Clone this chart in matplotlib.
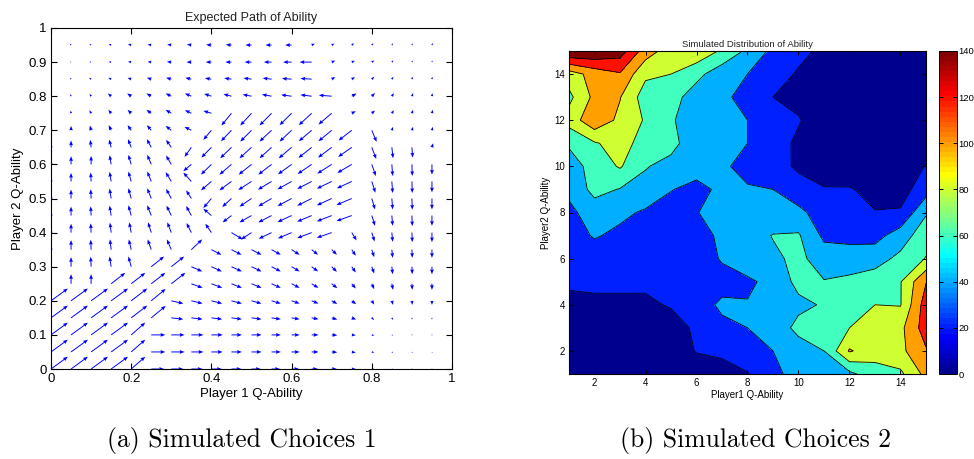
import numpy as np
import matplotlib
matplotlib.use('Agg')
import matplotlib.pyplot as plt
from matplotlib.colors import Normalize, ListedColormap
from matplotlib.cm import ScalarMappable
from matplotlib.ticker import FuncFormatter

plt.rcParams['font.family'] = ['Liberation Sans', 'DejaVu Sans']

# ---- left panel: expected drift of the two abilities ----
grid_pts = [0, 0.05, 0.1, 0.15, 0.2, 0.25, 0.3, 0.35, 0.4, 0.45,
            0.5, 0.55, 0.6, 0.65, 0.7, 0.75, 0.8, 0.85, 0.9, 0.95]

# drift components in hundredths, one row per y value, listed from y=0.95 down to y=0
u_rows = [
    [0, -0.3, -0.4, -0.6, -0.8, -0.9, -1.0, -1.1, -1.3, -1.4, -1.5, -1.5, -1.6, 0.8, 0.7, 0.6, 0.4, 0.3, 0.2, 0.2],
    [0, -0.3, -0.4, -0.6, -0.8, -0.9, -1.1, -1.2, -1.4, -1.5, -1.7, -1.9, -2.1, -3.0, 0.9, 0.8, 0.6, 0.4, 0.2, 0.1],
    [0, -0.3, -0.5, -0.7, -0.9, -1.1, -1.3, -1.5, -1.6, -1.8, -2.0, -2.2, -2.4, -2.8, 0.9, 0.8, 0.6, 0.4, 0.2, 0.1],
    [0, -0.2, -0.4, -0.8, -1.0, -1.2, -1.4, -1.6, -1.8, -2.0, -2.2, -2.4, -2.6, -2.8, -3.2, 1.2, 0.8, 0.5, 0.3, 0.1],
    [0, -0.1, -0.4, -0.7, -0.9, -1.2, -1.4, -1.6, -2.0, -2.5, -2.8, -3.0, -3.0, -3.2, -3.3, 1.0, 0.8, 0.5, 0.3, 0.2],
    [0, 0, -0.3, -0.6, -0.9, -1.1, -1.4, -1.7, -2.0, -2.6, -2.8, -3.0, -3.0, -3.2, -3.3, -3.3, 1.2, 0.3, 0.3, 0.2],
    [0, 0, -0.2, -0.5, -0.8, -1.1, -1.3, -1.7, -2.5, -2.8, -3.0, -3.0, -3.2, -3.3, -3.4, -3.4, 1.1, 0.3, 0.2, 0.3],
    [0, 0, 0, -0.4, -0.7, -1.0, -1.3, -2.0, -2.6, -3.0, -3.2, -3.3, -3.4, -3.5, -3.6, -3.6, 1.0, 0.2, 0.1, 0],
    [0, 0, -0.1, -0.4, -0.7, -1.0, -1.4, -2.0, -2.6, -3.0, -3.3, -3.4, -3.5, -3.6, -3.7, -3.7, 0.9, 0.2, 0.1, 0],
    [0, 0, -0.1, -0.4, -0.7, -1.0, -1.3, -1.3, -2.0, -2.3, -3.0, -3.3, -3.5, -3.6, -3.7, -3.8, 0.8, 0.2, 0.1, 0],
    [0, 0, -0.1, -0.4, -0.7, -1.0, -1.2, -1.3, -2.0, -2.2, -3.0, -3.3, -3.5, -3.6, -3.7, -3.8, 0.8, 0.2, 0.1, 0],
    [0, 0, -0.1, -0.3, -0.5, -0.8, -1.0, -1.2, -1.5, 2.8, -2.6, -3.2, -3.4, -3.6, -3.7, 1.2, 0.7, 0.2, 0.1, 0],
    [0, 0, -0.1, -0.3, -0.6, -0.9, -1.1, 2.7, 2.5, 2.5, 2.5, 2.3, 2.0, 1.6, 1.3, 1.0, 0.6, 0.2, 0.1, 0],
    [0, 0, -0.1, -0.4, -0.7, 3.2, 3.2, 2.7, 2.6, 2.6, 2.5, 2.3, 2.0, 1.6, 1.3, 1.0, 0.6, 0.2, 0.1, 0],
    [0, 0, 0, 3.5, 3.5, 3.5, 3.5, 2.8, 2.7, 2.6, 2.5, 2.3, 2.0, 1.7, 1.4, 1.0, 0.6, 0.3, 0.1, 0],
    [4.2, 4.2, 4.2, 4.2, 4.0, 3.6, 3.0, 2.8, 2.7, 2.6, 2.5, 2.3, 2.0, 1.7, 1.4, 1.1, 0.6, 0.3, 0.1, 0],
    [4.2, 4.2, 4.2, 4.2, 4.0, 3.6, 3.0, 2.8, 2.7, 2.6, 2.5, 2.3, 2.0, 1.7, 1.4, 1.1, 0.6, 0.3, 0.1, 0],
    [4.2, 4.2, 4.2, 4.2, 3.5, 3.5, 3.3, 3.0, 2.8, 2.6, 2.5, 2.3, 2.0, 1.7, 1.4, 1.0, 0.6, 0.3, 0.1, 0.1],
    [4.2, 4.2, 4.2, 4.2, 3.5, 3.5, 3.3, 3.0, 2.8, 2.6, 2.5, 2.3, 2.0, 1.7, 1.4, 1.0, 0.6, 0.3, 0.2, 0.1],
    [4.2, 4.2, 4.2, 4.2, 3.5, 3.2, 3.0, 2.8, 2.6, 2.5, 2.3, 2.1, 1.9, 1.6, 1.3, 1.0, 0.6, 0.3, 0.2, 0.1],
]
v_rows = [
    [0.3, 0.4, 0.3, 0.3, 0.3, 0.2, 0.2, 0.2, 0.1, 0.1, 0, 0, 0, 0.4, 0.4, 0.5, 0.5, 0.5, 0.5, 0.6],
    [0.3, 0.1, 0.1, 0.1, 0.1, 0.1, 0.1, 0, 0, 0, 0, 0, 0, 0, 0.4, 0.4, 0.5, 0.5, 0.5, 0.5],
    [0.4, 0.4, 0.4, 0.4, 0.4, 0.4, 0.4, 0.4, 0.3, 0.3, 0.3, 0.3, 0.2, 0.2, 0.6, 0.6, 0.7, 0.7, 0.7, 0.7],
    [0.6, 0.6, 0.7, 0.8, 0.8, 0.8, 0.8, 0.8, 0.7, 0.6, 0.5, 0.5, 0.4, 0.4, 0.3, 0.8, 0.9, 0.9, 0.9, 0.9],
    [0.8, 0.8, 0.9, 1.0, 1.0, 1.0, 1.0, 0.9, 0.7, -3.6, -3.6, -3.6, -3.5, -3.5, -3.3, 0.6, 0.8, 0.9, 1.0, 1.0],
    [1.0, 1.3, 1.4, 1.5, 1.5, 1.5, 1.3, 1.0, -2.8, -3.2, -3.3, -3.3, -3.3, -3.2, -3.2, -3.0, -3.4, 1.0, 1.0, 1.0],
    [1.2, 2.0, 2.2, 2.3, 2.4, 2.4, 2.2, -2.8, -3.0, -3.2, -3.2, -3.2, -3.2, -3.1, -3.0, -2.8, -3.4, -3.2, -3.0, 1.2],
    [1.2, 2.4, 2.5, 2.7, 2.8, 2.8, 2.6, -2.0, -3.0, -3.0, -3.0, -3.0, -2.9, -2.8, -2.7, -2.5, -3.4, -3.4, -3.4, -3.0],
    [1.2, 2.5, 2.6, 2.8, 2.9, 2.9, 2.7, 2.6, -2.6, -2.6, -2.5, -2.4, -2.3, -2.2, -2.1, -2.0, -3.3, -3.4, -3.4, -3.2],
    [1.2, 2.6, 2.7, 2.9, 3.0, 3.0, 2.8, 2.4, -2.8, -2.5, -2.4, -2.3, -2.2, -2.1, -2.0, -1.9, -3.2, -3.2, -3.3, -3.2],
    [1.2, 2.6, 2.7, 2.9, 3.0, 3.0, 2.9, 2.8, 2.0, -2.0, -2.0, -2.0, -1.9, -1.8, -1.7, -1.6, -3.0, -3.0, -3.1, -3.0],
    [1.2, 2.6, 2.7, 2.9, 3.0, 3.0, 3.0, 2.8, 2.6, -2.0, -2.0, -1.8, -1.7, -1.6, -1.5, -2.3, -2.6, -2.7, -2.8, -2.8],
    [1.2, 2.8, 2.9, 3.0, 3.0, 3.0, 3.0, 3.0, -1.5, -1.5, -1.5, -1.5, -1.5, -1.5, -1.5, -1.8, -2.2, -2.4, -2.4, -2.4],
    [1.0, 2.8, 2.9, 3.0, 3.0, 3.0, 3.0, -1.4, -1.4, -1.4, -1.4, -1.4, -1.4, -1.4, -1.5, -1.7, -2.0, -2.2, -2.2, -2.2],
    [0.8, 2.8, 2.8, 3.2, 3.2, 3.2, 3.2, -1.2, -1.2, -1.2, -1.2, -1.2, -1.2, -1.2, -1.3, -1.4, -1.6, -1.8, -1.8, -1.8],
    [3.6, 3.6, 3.6, 3.6, 3.6, 3.5, -0.8, -0.8, -0.8, -0.8, -0.8, -0.8, -0.8, -0.8, -0.9, -1.0, -1.1, -1.2, -1.2, -1.2],
    [3.6, 3.6, 3.6, 3.6, 3.6, 3.5, -0.4, -0.4, -0.4, -0.4, -0.4, -0.4, -0.4, -0.4, -0.5, -0.5, -0.6, -0.6, -0.5, -0.5],
    [3.6, 3.6, 3.6, 3.6, 3.6, 0, 0, 0, 0, 0, 0, 0, 0, 0, -0.1, -0.1, -0.2, -0.2, -0.2, -0.2],
    [3.6, 3.6, 3.6, 3.6, 3.6, 0, 0, 0, 0, 0, 0, 0, 0, 0, -0.1, -0.2, -0.2, -0.3, -0.3, -0.3],
    [3.6, 3.6, 3.6, 3.6, 3.6, 0, 0, 0, 0, 0, 0, 0, 0, 0, 0, 0, 0, 0, 0, 0],
]

# ---- right panel: simulated counts on the 15x15 ability grid ----
ability_steps = list(range(1, 16))
# rows from Player2 ability 15 down to 1, columns Player1 ability 1..15
count_rows = [
    [160, 158, 150, 110, 90, 95, 77, 56, 35, 25, 16, 8, 5, 5, 5],
    [90, 108, 118, 84, 80, 66, 48, 40, 28, 18, 6, 4, 3, 3, 4],
    [75, 105, 101, 70, 68, 50, 45, 32, 20, 12, 4, 3, 2, 2, 3],
    [88, 115, 95, 78, 62, 50, 45, 40, 39, 22, 5, 3, 2, 2, 5],
    [63, 78, 88, 72, 65, 50, 48, 40, 32, 15, 5, 3, 2, 3, 12],
    [50, 68, 82, 61, 55, 50, 45, 30, 25, 18, 5, 3, 3, 8, 21],
    [45, 66, 59, 55, 41, 33, 45, 43, 40, 25, 22, 22, 12, 12, 31],
    [35, 50, 45, 37, 30, 39, 50, 45, 45, 46, 28, 25, 21, 22, 58],
    [30, 42, 35, 28, 25, 30, 45, 50, 61, 62, 36, 35, 33, 50, 72],
    [30, 28, 25, 25, 25, 28, 42, 50, 56, 65, 50, 48, 52, 65, 81],
    [23, 22, 22, 22, 25, 28, 32, 37, 45, 66, 61, 65, 70, 79, 119],
    [15, 18, 18, 18, 21, 30, 44, 41, 50, 55, 62, 72, 80, 79, 130],
    [8, 8, 8, 10, 15, 22, 35, 40, 47, 66, 70, 80, 88, 95, 130],
    [5, 5, 5, 6, 10, 21, 25, 30, 40, 50, 60, 102, 88, 95, 118],
    [3, 3, 3, 4, 5, 10, 10, 19, 32, 52, 56, 55, 72, 76, 106],
]
count_levels = [0, 20, 40, 60, 80, 100, 120, 140]


def matlab_jet(n=64):
    # the classic 64-step jet table
    x = np.arange(1, n + 1) / float(n)
    r = np.clip(1.5 - np.abs(4 * x - 3), 0, 1)
    g = np.clip(1.5 - np.abs(4 * x - 2), 0, 1)
    b = np.clip(1.5 - np.abs(4 * x - 1), 0, 1)
    return np.column_stack([r, g, b])


jet_table = matlab_jet(64)
jet_cmap = ListedColormap(jet_table)

fig = plt.figure(figsize=(9.74, 4.59), dpi=100)
W, H = 974.0, 459.0

# quiver panel
ax1 = fig.add_axes([51 / W, 1 - 369 / H, 401 / W, 341 / H])
qx, qy = np.meshgrid(grid_pts, grid_pts)
U = np.array(u_rows[::-1]) * 0.01
V = np.array(v_rows[::-1]) * 0.01
ax1.quiver(qx, qy, U, V, color='b', angles='xy', scale_units='xy', scale=1,
           width=0.0024, headwidth=4, headlength=5, headaxislength=4.5,
           pivot='tail')
ax1.set_xlim(0, 1)
ax1.set_ylim(0, 1)
ax1.set_xticks(np.arange(0, 1.01, 0.2))
ax1.set_yticks(np.arange(0, 1.01, 0.1))
fmt = FuncFormatter(lambda v, p: '%g' % round(v, 2))
ax1.xaxis.set_major_formatter(fmt)
ax1.yaxis.set_major_formatter(fmt)
ax1.tick_params(direction='in', top=True, right=True, labelsize=9.5,
                length=4, width=0.8, pad=3)
ax1.set_title('Expected Path of Ability', fontsize=9, pad=5, color='#222222')
ax1.set_xlabel('Player 1 Q-Ability', fontsize=9.5, labelpad=2)
ax1.set_ylabel('Player 2 Q-Ability', fontsize=9.5, labelpad=3)

# filled contour panel, each band coloured by its lower level
ax2 = fig.add_axes([569 / W, 1 - 374 / H, 357 / W, 323 / H])
cx, cy = np.meshgrid(ability_steps, ability_steps)
Z = np.array(count_rows[::-1], dtype=float)
band_edges = count_levels + [1000]
band_colors = [jet_table[min(int(lv / 140.0 * 64), 63)] for lv in count_levels]
ax2.contourf(cx, cy, Z, levels=band_edges, colors=band_colors)
ax2.contour(cx, cy, Z, levels=count_levels[1:], colors='k', linewidths=0.6)
ax2.set_xlim(1, 15)
ax2.set_ylim(1, 15)
ax2.set_xticks(range(2, 15, 2))
ax2.set_yticks(range(2, 15, 2))
ax2.tick_params(direction='in', top=True, right=True, labelsize=7,
                length=3, width=0.7, pad=3)
ax2.set_title('Simulated Distribution of Ability', fontsize=6.8, pad=3,
              color='#222222')
ax2.set_xlabel('Player1 Q-Ability', fontsize=7, labelpad=1)
ax2.set_ylabel('Player2 Q-Ability', fontsize=7, labelpad=2)

cax = fig.add_axes([939 / W, 1 - 374 / H, 18 / W, 323 / H])
sm = ScalarMappable(norm=Normalize(0, 140), cmap=jet_cmap)
cb = fig.colorbar(sm, cax=cax, ticks=count_levels)
cb.ax.tick_params(direction='in', left=True, right=True, labelsize=6.8,
                  length=3, width=0.7, pad=1)
cb.outline.set_linewidth(0.7)

for ax in (ax1, ax2):
    for s in ax.spines.values():
        s.set_linewidth(0.8)

fig.text(242 / W, 1 - 440 / H, '(a) Simulated Choices 1', ha='center',
         va='center', fontsize=18.5, family='cmr10')
fig.text(756 / W, 1 - 440 / H, '(b) Simulated Choices 2', ha='center',
         va='center', fontsize=18.5, family='cmr10')

fig.savefig('out.png', dpi=100)
